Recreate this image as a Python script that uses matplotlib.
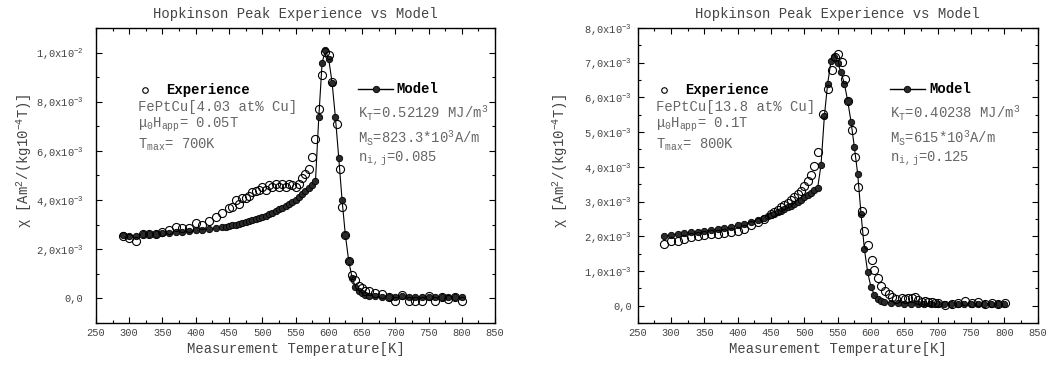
import matplotlib
matplotlib.use("Agg")
import matplotlib.pyplot as plt
from matplotlib.ticker import MultipleLocator, FuncFormatter
import numpy as np

# ===== data (chi in units of 1e-3) =====
# left panel: FePtCu 4.03 at% Cu
exp1_T = [290, 300, 310, 320, 330, 340, 350, 360, 370, 380, 390, 400, 410, 420, 430,
          440, 450, 455, 460, 465, 470, 475, 480, 485, 490, 495, 500, 505, 510, 515,
          520, 525, 530, 535, 540, 545, 550, 555, 560, 565, 570, 575, 580, 585, 590,
          595, 600, 605, 612, 617, 620, 625, 630, 635, 640, 645, 650, 655, 660, 670,
          680, 690, 700, 710, 720, 730, 740, 750, 760, 770, 780, 790, 800]
exp1_chi = [2.55, 2.45, 2.32, 2.6, 2.6, 2.6, 2.7, 2.8, 2.9, 2.85, 2.85, 3.08, 3.0, 3.16, 3.3,
            3.46, 3.66, 3.7, 4.0, 3.83, 4.07, 4.1, 4.15, 4.34, 4.35, 4.4, 4.54, 4.42, 4.6, 4.52,
            4.65, 4.55, 4.65, 4.52, 4.65, 4.62, 4.54, 4.65, 4.88, 5.08, 5.28, 5.76, 6.5, 7.72, 9.1,
            10.03, 9.9, 8.8, 7.08, 5.25, 3.72, 2.57, 1.53, 0.95, 0.74, 0.5, 0.41, 0.3, 0.31, 0.2,
            0.17, 0.05, -0.1, 0.13, -0.11, -0.11, -0.11, 0.09, -0.1, 0.07, -0.04, 0.07, -0.11]

mod1_T = [290, 300, 310, 320, 330, 340, 350, 360, 370, 380, 390, 400, 410, 420, 430, 440,
          445, 450, 455, 460, 465, 470, 475, 480, 485, 490, 495, 500, 505, 510, 515, 520,
          525, 530, 535, 540, 545, 550, 555, 560, 565, 570, 575, 580, 585, 590, 595, 600,
          605, 610, 615, 620, 625, 630, 635, 640, 645, 650, 655, 660, 670, 680, 690, 700,
          710, 720, 730, 740, 750, 760, 770, 780, 790, 800]
mod1_chi = [2.57, 2.52, 2.55, 2.6, 2.62, 2.62, 2.65, 2.68, 2.7, 2.72, 2.74, 2.77, 2.8, 2.83, 2.86, 2.9,
            2.92, 2.95, 2.97, 3.0, 3.03, 3.06, 3.1, 3.14, 3.18, 3.22, 3.27, 3.32, 3.37, 3.43, 3.49, 3.55,
            3.62, 3.69, 3.76, 3.84, 3.93, 4.02, 4.12, 4.23, 4.35, 4.48, 4.62, 4.76, 7.36, 9.59, 10.09, 9.72,
            8.78, 7.36, 5.73, 4.0, 2.57, 1.53, 0.85, 0.47, 0.31, 0.2, 0.15, 0.1, 0.08, 0.07, 0.07, 0.06,
            0.08, 0.05, 0.06, 0.07, 0.06, 0.05, 0.07, 0.06, 0.05, 0.05]

# right panel: FePtCu 13.8 at% Cu
exp2_T = [290, 300, 310, 320, 330, 340, 350, 360, 370, 380, 390, 400, 410, 420, 430, 440,
          450, 455, 460, 465, 470, 475, 480, 485, 490, 495, 500, 505, 510, 515, 520, 528,
          536, 541, 546, 551, 556, 561, 566, 571, 576, 581, 586, 590, 595, 601, 605, 611,
          615, 621, 627, 632, 638, 646, 651, 656, 661, 666, 671, 676, 681, 686, 691, 696,
          701, 711, 721, 731, 741, 751, 761, 771, 781, 791, 801]
exp2_chi = [1.78, 1.85, 1.87, 1.92, 1.97, 2.02, 2.03, 2.05, 2.07, 2.1, 2.13, 2.16, 2.2, 2.31, 2.4, 2.5,
            2.64, 2.7, 2.75, 2.84, 2.9, 2.97, 3.03, 3.12, 3.22, 3.3, 3.46, 3.6, 3.75, 4.01, 4.42, 5.53,
            6.25, 6.8, 7.15, 7.26, 7.02, 6.54, 5.91, 5.05, 4.28, 3.43, 2.74, 2.16, 1.76, 1.32, 1.03, 0.8,
            0.58, 0.43, 0.34, 0.26, 0.19, 0.21, 0.2, 0.21, 0.22, 0.24, 0.15, 0.1, 0.12, 0.1, 0.1, 0.08,
            0.07, 0.03, 0.05, 0.07, 0.12, 0.08, 0.1, 0.05, 0.07, 0.06, 0.07]

mod2_T = [290, 300, 310, 320, 330, 340, 350, 360, 370, 380, 390, 400, 410, 420, 430, 440,
          445, 450, 455, 460, 465, 470, 475, 480, 485, 490, 495, 500, 505, 510, 515, 520,
          525, 530, 535, 540, 545, 550, 555, 560, 565, 570, 575, 580, 585, 590, 595, 600,
          605, 610, 615, 620, 630, 640, 650, 660, 670, 680, 690, 700, 710, 720, 730, 740,
          750, 760, 770, 780, 790, 800]
mod2_chi = [2.0, 2.04, 2.07, 2.09, 2.11, 2.13, 2.15, 2.17, 2.2, 2.23, 2.27, 2.31, 2.36, 2.41, 2.47, 2.53,
            2.57, 2.61, 2.65, 2.69, 2.74, 2.78, 2.83, 2.88, 2.93, 2.99, 3.05, 3.12, 3.19, 3.26, 3.33, 3.4,
            4.05, 5.45, 6.4, 7.05, 7.17, 7.0, 6.72, 6.4, 5.9, 5.3, 4.57, 3.8, 2.65, 1.64, 0.96, 0.53,
            0.32, 0.2, 0.13, 0.1, 0.08, 0.07, 0.06, 0.06, 0.05, 0.06, 0.05, 0.05, 0.04, 0.05, 0.05, 0.06,
            0.05, 0.05, 0.06, 0.05, 0.05, 0.05]

panels = [
    dict(exp_T=exp1_T, exp_chi=exp1_chi, mod_T=mod1_T, mod_chi=mod1_chi,
         ylim=(-1.0e-3, 1.1e-2), ymajor=2e-3, yminor=1e-3,
         sample="FePtCu[4.03 at% Cu]", field=r"μ$_0$H$_{app}$= 0.05T", tmax=r"T$_{max}$= 700K",
         kt=r"K$_T$=0.52129 MJ/m$^3$", ms=r"M$_S$=823.3*10$^3$A/m", nij=r"n$_{i,j}$=0.085",
         exp_x=0.105, mod_x=0.657, pos=[0.0915, 0.1175, 0.3804, 0.806], tickpad=9,
         ylab_x=-0.155),
    dict(exp_T=exp2_T, exp_chi=exp2_chi, mod_T=mod2_T, mod_chi=mod2_chi,
         ylim=(-0.5e-3, 8.0e-3), ymajor=1e-3, yminor=5e-4,
         sample="FePtCu[13.8 at% Cu]", field=r"μ$_0$H$_{app}$= 0.1T", tmax=r"T$_{max}$= 800K",
         kt=r"K$_T$=0.40238 MJ/m$^3$", ms=r"M$_S$=615*10$^3$A/m", nij=r"n$_{i,j}$=0.125",
         exp_x=0.047, mod_x=0.631, pos=[0.6079, 0.1175, 0.3813, 0.806], tickpad=4,
         ylab_x=-0.168),
]

plt.rcParams["font.family"] = ["Liberation Mono", "DejaVu Sans"]
plt.rcParams["mathtext.default"] = "regular"

grey = "#666666"
dark = "#444444"


def sci_fmt(v, pos):
    if abs(v) < 1e-12:
        return "0,0"
    e = int(np.floor(np.log10(abs(v)) + 1e-9))
    m = v / 10 ** e
    return ("%.1f" % m).replace(".", ",") + r"x10$^{%d}$" % e


fig = plt.figure(figsize=(10.49, 3.66), dpi=100)

for p in panels:
    ax = fig.add_axes(p["pos"])
    T_e = np.array(p["exp_T"])
    c_e = np.array(p["exp_chi"]) * 1e-3
    T_m = np.array(p["mod_T"])
    c_m = np.array(p["mod_chi"]) * 1e-3

    ax.plot(T_m, c_m, color="black", lw=0.8, zorder=2)
    ax.plot(T_m, c_m, ls="none", marker="o", ms=4.6, mfc="#2a2a2a", mec="black",
            mew=0.6, zorder=3)
    ax.plot(T_e, c_e, ls="none", marker="o", ms=5.8, mfc="none", mec="black",
            mew=0.8, zorder=4)

    ax.set_xlim(250, 850)
    ax.set_ylim(*p["ylim"])
    ax.xaxis.set_major_locator(MultipleLocator(50))
    ax.xaxis.set_minor_locator(MultipleLocator(25))
    ax.yaxis.set_major_locator(MultipleLocator(p["ymajor"]))
    ax.yaxis.set_minor_locator(MultipleLocator(p["yminor"]))
    ax.yaxis.set_major_formatter(FuncFormatter(sci_fmt))
    ax.tick_params(which="both", direction="in", top=True, right=True,
                   labelsize=7.5, labelcolor=dark)
    ax.tick_params(axis="y", which="both", pad=p["tickpad"])
    ax.tick_params(which="major", length=4, width=0.8)
    ax.tick_params(which="minor", length=2.5, width=0.8)
    for s in ax.spines.values():
        s.set_linewidth(1.0)

    ax.set_title("Hopkinson Peak Experience vs Model", fontsize=10, color=dark, pad=7)
    ax.set_xlabel("Measurement Temperature[K]", fontsize=10, color=dark, labelpad=3)
    ax.set_ylabel(r"$\chi$ [Am$^2$/(kg10$^{-4}$T)]", fontsize=10, color=dark)
    ax.yaxis.set_label_coords(p["ylab_x"], 0.55)

    # experience legend and annotations
    ex = p["exp_x"]
    ax.plot([ex + 0.018], [0.79], transform=ax.transAxes, ls="none", marker="o",
            ms=4, mfc="none", mec="black", mew=0.8)
    ax.text(ex + 0.072, 0.79, "Experience", transform=ax.transAxes, fontsize=10,
            fontweight="bold", color="black", va="center")
    ax.text(ex, 0.732, p["sample"], transform=ax.transAxes, fontsize=10, color=grey, va="center")
    ax.text(ex, 0.672, p["field"], transform=ax.transAxes, fontsize=10, color=grey, va="center")
    ax.text(ex, 0.605, p["tmax"], transform=ax.transAxes, fontsize=10, color=grey, va="center")

    # model legend and annotations
    mx = p["mod_x"]
    ax.plot([mx, mx + 0.087], [0.793, 0.793], transform=ax.transAxes, color="black", lw=1.0)
    ax.plot([mx + 0.0435], [0.793], transform=ax.transAxes, ls="none", marker="o",
            ms=4.6, mfc="#2a2a2a", mec="black", mew=0.6)
    ax.text(mx + 0.097, 0.793, "Model", transform=ax.transAxes, fontsize=10,
            fontweight="bold", color="black", va="center")
    ax.text(mx, 0.712, p["kt"], transform=ax.transAxes, fontsize=10, color=grey, va="center")
    ax.text(mx, 0.628, p["ms"], transform=ax.transAxes, fontsize=10, color=grey, va="center")
    ax.text(mx, 0.556, p["nij"], transform=ax.transAxes, fontsize=10, color=grey, va="center")

fig.savefig("out.png", dpi=100)
